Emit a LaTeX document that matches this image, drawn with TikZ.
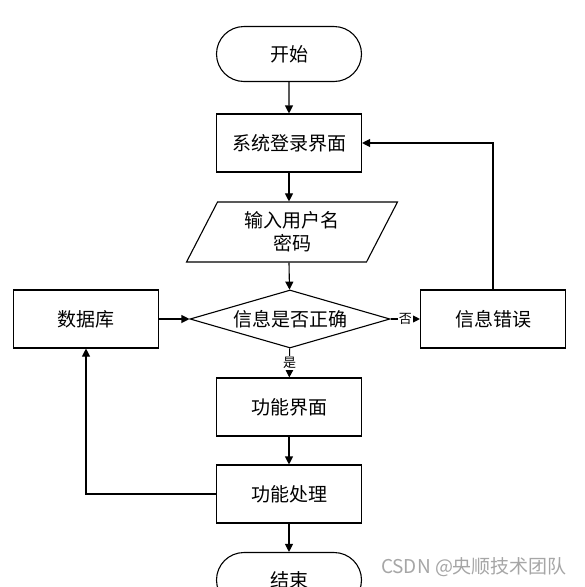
\documentclass[tikz,border=0pt]{standalone}
\usepackage{fontspec}
\setmainfont{Noto Sans CJK SC}
\usepackage{tikz}
\usetikzlibrary{arrows.meta,calc}
\usetikzlibrary{positioning,shapes.geometric,shapes.misc}

\tikzset{
    base/.style={draw, line width=1.1pt, font=\fontsize{19}{23}\selectfont, inner sep=0pt, align=center},
    startstop/.style={base, rounded rectangle, minimum width=145pt, minimum height=55pt},
    procbox/.style={base, rectangle, minimum width=145pt, minimum height=58pt},
    iobox/.style={base, trapezium, trapezium left angle=64, trapezium right angle=116,
        trapezium stretches=true, minimum width=211pt, minimum height=60pt},
    decision/.style={base, diamond, aspect=3.45, minimum width=200pt, minimum height=58pt},
    arr/.style={-{Triangle[length=8pt,width=8pt]}, line width=1.1pt},
    lbl/.style={fill=white, inner sep=1pt, font=\fontsize{13}{15}\selectfont}
}

\begin{document}
\begin{tikzpicture}[x=1pt, y=-1pt]
    \clip (0,0) rectangle (585,587);
    \fill[white] (0,0) rectangle (585,587);

    % Nodes
    \node[startstop] (start) at (289,54) {开始};
    \node[procbox] (login) at (289,143) {系统登录界面};
    \node[iobox] (input) at (292,232) {输入用户名\\密码};
    \node[decision] (check) at (290,319) {信息是否正确};
    \node[procbox] (db) at (86,319) {数据库};
    \node[procbox] (err) at (493,319) {信息错误};
    \node[procbox] (func) at (289,407) {功能界面};
    \node[procbox] (proc) at (289,494) {功能处理};
    \node[startstop] (stop) at (289,580) {结束};

    % Arrows
    \draw[arr] (start) -- (login);
    \draw[arr] (login) -- (login |- input.north);
    \draw[arr] (login |- input.south) -- (check);
    \draw[arr] (db) -- (check);
    \draw[arr] (check) -- node[lbl] {否} (err);
    \draw[arr] (err.north) |- (login.east);
    \draw[arr] (check) -- node[lbl] {是} (func);
    \draw[arr] (func) -- (proc);
    \draw[arr] (proc.west) -| (db.south);
    \draw[arr] (proc) -- (stop);

    % Watermark
    \node[text=gray!70, font=\fontsize{19}{21}\selectfont] (mark) at (474,567) {CSDN @央顺技术团队};
\end{tikzpicture}
\end{document}
